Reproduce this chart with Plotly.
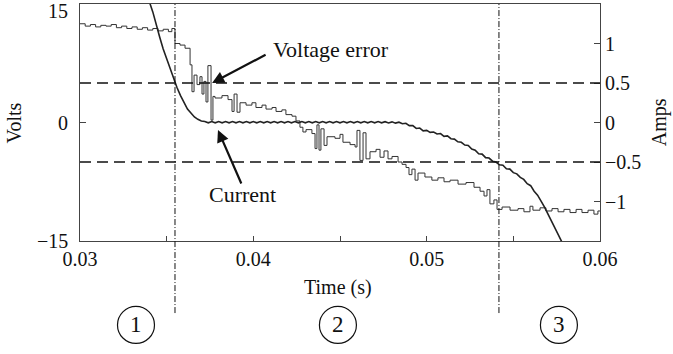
import plotly.graph_objects as go

# ---- data ----
volt_t = [0.0300, 0.0303, 0.0306, 0.0309, 0.0312, 0.0315, 0.0318, 0.0321, 0.0324, 0.0327,
          0.0330, 0.0333, 0.0336, 0.0339, 0.0342, 0.0345, 0.0348, 0.0351, 0.0353, 0.03548,
          0.03577, 0.03606, 0.03635, 0.03646, 0.03658, 0.03675, 0.03692, 0.03704, 0.03715, 0.03727,
          0.03738, 0.03756, 0.03767, 0.03779, 0.03819, 0.03854, 0.03877, 0.03889, 0.03906, 0.03923,
          0.03958, 0.03992, 0.04015, 0.0405, 0.04073, 0.04108, 0.04131, 0.04165, 0.04188, 0.04223,
          0.04246, 0.04269, 0.04286, 0.04304, 0.04338, 0.04356, 0.04367, 0.04379, 0.0439, 0.04408,
          0.04425, 0.04471, 0.045, 0.04517, 0.04558, 0.04587, 0.04598, 0.04615, 0.04633, 0.0465,
          0.04673, 0.04708, 0.04731, 0.04754, 0.04777, 0.048, 0.04835, 0.04858, 0.04881, 0.04898,
          0.04915, 0.04933, 0.0495, 0.0499, 0.0503, 0.05065, 0.051, 0.05135, 0.05181, 0.05227,
          0.05273, 0.05308, 0.05331, 0.05348, 0.05365, 0.05388, 0.05406, 0.05435, 0.05481, 0.05527,
          0.05561, 0.05596, 0.05613, 0.05654, 0.05688, 0.05723, 0.05758, 0.05792, 0.05827, 0.05862,
          0.05896, 0.05931, 0.05965, 0.05988, 0.06]
volt_v = [12.5, 12.2, 12.4, 12.1, 12.3, 12.2, 12.4, 12.0, 12.2, 11.9,
          12.1, 11.8, 12.0, 11.7, 11.9, 11.6, 11.8, 11.5, 11.9, 10.0,
          9.8, 9.4, 7.3, 3.9, 6.0, 4.8, 5.8, 3.6, 5.2, 2.6,
          7.2, 0.3, 3.3, 3.1, 3.4, 2.9, 1.4, 3.6, 1.3, 2.5,
          2.2, 2.5, 1.9, 2.2, 1.7, 1.9, 1.4, 1.6, 1.0, 0.8,
          0.2, -0.6, -1.2, -0.9, -1.4, -3.3, -0.3, -3.5, -0.8, -2.9,
          -1.8, -2.0, -1.5, -2.5, -2.8, -3.1, -1.0, -4.8, -1.3, -4.6,
          -3.7, -3.4, -4.4, -3.6, -4.6, -4.3, -5.0, -5.3, -5.7, -6.6,
          -5.9, -7.3, -6.4, -6.9, -7.3, -7.0, -7.5, -7.3, -7.8, -7.6,
          -8.2, -8.7, -9.3, -8.5, -10.3, -9.8, -11.0, -10.7, -11.1, -10.9,
          -11.3, -10.6, -11.1, -10.8, -11.2, -10.9, -11.3, -11.0, -11.4, -11.0,
          -11.4, -11.1, -11.6, -11.2, -11.2]

current_t0 = 0.0336
current_dt = 0.0002
current_a = [1.84, 1.68, 1.53, 1.40, 1.23, 1.08, 0.93, 0.80, 0.68, 0.56,
             0.44, 0.34, 0.26, 0.17, 0.12, 0.07, 0.04, 0.02, 0.012, -0.004,
             0.012, -0.004, 0.012, -0.004, 0.012, -0.004, 0.012, -0.004, 0.012, -0.004,
             0.012, -0.004, 0.012, -0.004, 0.012, -0.004, 0.012, -0.004, 0.012, -0.004,
             0.012, -0.004, 0.012, -0.004, 0.012, -0.004, 0.012, -0.004, 0.012, -0.004,
             0.012, -0.004, 0.012, -0.004, 0.012, -0.004, 0.012, -0.004, 0.012, -0.004,
             0.012, -0.004, 0.012, -0.004, 0.012, -0.004, 0.012, -0.004, 0.012, -0.004,
             0.01, -0.006, 0.008, -0.008, 0.004, -0.015, -0.01, -0.04, -0.04, -0.075,
             -0.07, -0.105, -0.10, -0.125, -0.12, -0.145, -0.14, -0.175, -0.17, -0.205,
             -0.21, -0.245, -0.25, -0.285, -0.29, -0.335, -0.35, -0.395, -0.40, -0.445,
             -0.45, -0.49, -0.50, -0.535, -0.54, -0.585, -0.59, -0.635, -0.65, -0.695,
             -0.72, -0.775, -0.80, -0.87, -0.92, -0.99, -1.07, -1.16, -1.25, -1.34,
             -1.42, -1.51, -1.60]
current_t = [round(current_t0 + current_dt * i, 5) for i in range(len(current_a))]

limit_amps = [0.5, -0.5]
region_bounds = [0.03548, 0.05417]
region_labels = ["1", "2", "3"]
region_centers = [0.03323, 0.04488, 0.05763]
x_tickvals = [0.03, 0.04, 0.05, 0.06]
x_ticktext = ["0.03", "0.04", "0.05", "0.06"]
volt_ticks = [15, 0, -15]
volt_ticktext = ["15", "0", "\u221215"]
amp_ticks = [1, 0.5, 0, -0.5, -1]
amp_ticktext = ["1", "0.5", "0", "\u22120.5", "\u22121"]

assert len(volt_t) == len(volt_v)

FONT = "Liberation Serif, Times New Roman, serif"
INK = "#111111"

fig = go.Figure()
fig.add_trace(go.Scatter(x=volt_t, y=volt_v, mode="lines", line=dict(color="#333333", width=1, shape="hv"),
                         yaxis="y", showlegend=False, hoverinfo="skip"))
fig.add_trace(go.Scatter(x=current_t, y=current_a, mode="lines", line=dict(color="#222222", width=1.6),
                         yaxis="y2", showlegend=False, hoverinfo="skip"))

shapes = []
for a in limit_amps:
    shapes.append(dict(type="line", xref="paper", x0=0, x1=1, yref="y2", y0=a, y1=a,
                       line=dict(color=INK, width=1.5, dash="11px,6px")))
for b in region_bounds:
    shapes.append(dict(type="line", xref="x", x0=b, x1=b, yref="paper", y0=-0.304, y1=1,
                       line=dict(color=INK, width=1, dash="6px,2px,1px,2px")))
for c in region_centers:
    shapes.append(dict(type="circle", xref="x", xsizemode="pixel", xanchor=c, x0=-18.5, x1=18.5,
                       yref="paper", ysizemode="pixel", yanchor=-0.354, y0=-18.5, y1=18.5,
                       line=dict(color=INK, width=1.2)))

ann = []
for lab, c in zip(region_labels, region_centers):
    ann.append(dict(text=lab, x=c, xref="x", y=-0.354, yref="paper", showarrow=False,
                    font=dict(family=FONT, size=23, color=INK), xanchor="center", yanchor="middle"))
for v, txt in zip(volt_ticks, volt_ticktext):
    ann.append(dict(text=txt, x=-0.019, xref="paper", y=v, yref="y", showarrow=False,
                    xanchor="right", yanchor="middle", yshift=(-7 if v == 15 else 0),
                    font=dict(family=FONT, size=20, color=INK)))
ann.append(dict(text="Volts", x=-0.127, xref="paper", y=0, yref="y", textangle=-90, showarrow=False,
                xanchor="center", yanchor="middle", font=dict(family=FONT, size=20, color=INK)))
ann.append(dict(text="Amps", x=1.115, xref="paper", y=0, yref="y", textangle=-90, showarrow=False,
                xanchor="center", yanchor="middle", font=dict(family=FONT, size=20, color=INK)))
ann.append(dict(text="Time (s)", x=0.496, xref="paper", y=-0.198, yref="paper", showarrow=False,
                xanchor="center", yanchor="middle", font=dict(family=FONT, size=20, color=INK)))
# labels with arrows
ann.append(dict(text="Voltage error", x=0.04448, xref="x", y=9.18, yref="y", showarrow=False,
                xanchor="center", yanchor="middle", font=dict(family=FONT, size=22, color=INK)))
ann.append(dict(text="", x=0.03762, xref="x", y=5.0, yref="y", showarrow=True, ax=55, ay=-29,
                arrowhead=2, arrowsize=1.1, arrowwidth=2.2, arrowcolor=INK))
ann.append(dict(text="Current", x=0.03935, xref="x", y=-9.05, yref="y", showarrow=False,
                xanchor="center", yanchor="middle", font=dict(family=FONT, size=22, color=INK)))
ann.append(dict(text="", x=0.03796, xref="x", y=-0.95, yref="y", showarrow=True, ax=24, ay=55,
                arrowhead=2, arrowsize=1.1, arrowwidth=2.2, arrowcolor=INK))

fig.update_layout(
    width=673, height=354,
    margin=dict(l=80, r=73, t=4, b=113),
    paper_bgcolor="white", plot_bgcolor="white",
    font=dict(family=FONT, size=20, color=INK),
    shapes=shapes, annotations=ann,
    xaxis=dict(range=[0.03, 0.06], tickvals=x_tickvals, ticktext=x_ticktext, ticks="inside", ticklen=5,
               tickcolor="#444", minor=dict(dtick=0.005, ticks="inside", ticklen=5, tickcolor="#444"),
               showgrid=False, zeroline=False, showline=True, linecolor="#444", linewidth=1, mirror=True,
               tickfont=dict(family=FONT, size=20, color=INK)),
    yaxis=dict(range=[-15, 15], tickvals=volt_ticks, ticks="inside", ticklen=6, tickcolor="#444",
               showticklabels=False, showgrid=False, zeroline=False, showline=True, linecolor="#444",
               linewidth=1, mirror=True),
    yaxis2=dict(range=[-1.5, 1.5], overlaying="y", side="right", tickvals=amp_ticks, ticktext=amp_ticktext,
                ticks="inside", ticklen=6, tickcolor="#444", showgrid=False, zeroline=False,
                showline=True, linecolor="#444", linewidth=1,
                tickfont=dict(family=FONT, size=20, color=INK)),
)

fig.write_html("out.html")
